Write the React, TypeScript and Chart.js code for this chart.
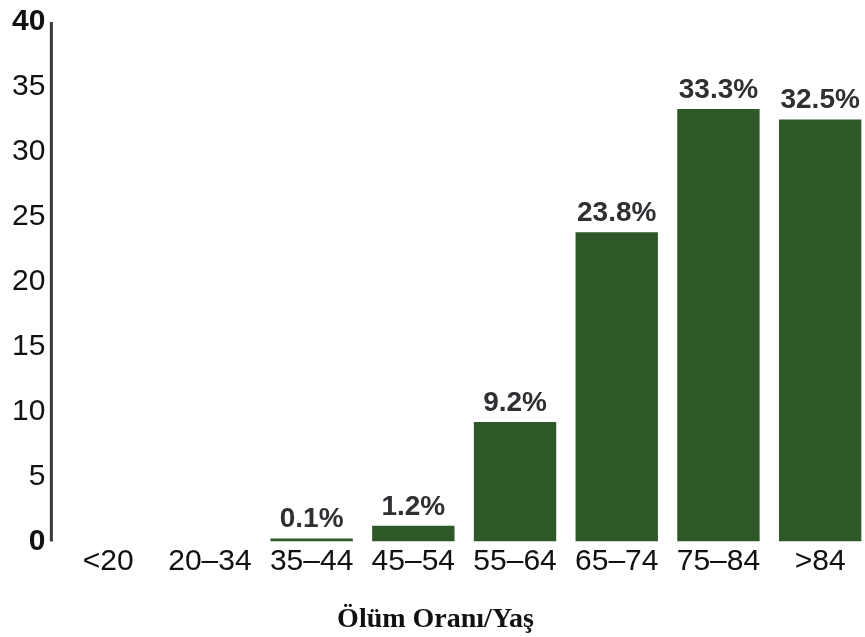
import React, { useEffect, useRef } from "react";
import { Chart, registerables } from "chart.js";

Chart.register(...registerables);

// Age groups and death rate (%) per group
const ageGroups = ["<20", "20–34", "35–44", "45–54", "55–64", "65–74", "75–84", ">84"];
const mortalityRates: (number | null)[] = [null, null, 0.1, 1.2, 9.2, 23.8, 33.3, 32.5];
const yTicks = [0, 5, 10, 15, 20, 25, 30, 35, 40];
const chartTitle = "Ölüm Oranı/Yaş";

const BAR_GREEN = "#2f5829";
const TEXT_DARK = "#111111";
const LABEL_GREY = "#2e3033";

// Vertical axis line, drawn a little to the left of the plot area
const axisLinePlugin = {
  id: "axisLine",
  afterDraw(chart: any) {
    const { ctx, chartArea, scales } = chart;
    const ys = scales.y;
    const x = chartArea.left - 6;
    ctx.save();
    ctx.strokeStyle = "#3a3a3a";
    ctx.lineWidth = 3;
    ctx.beginPath();
    ctx.moveTo(x, ys.getPixelForValue(yTicks[yTicks.length - 1]));
    ctx.lineTo(x, ys.getPixelForValue(yTicks[0]));
    ctx.stroke();
    ctx.restore();
  },
};

// Percentage labels above each bar
const valueLabelPlugin = {
  id: "valueLabels",
  afterDatasetsDraw(chart: any) {
    const { ctx } = chart;
    const meta = chart.getDatasetMeta(0);
    ctx.save();
    ctx.font = "bold 28px 'Liberation Sans', Arial, sans-serif";
    ctx.fillStyle = LABEL_GREY;
    ctx.textAlign = "center";
    ctx.textBaseline = "alphabetic";
    meta.data.forEach((bar: any, i: number) => {
      const v = mortalityRates[i];
      if (v === null || v === undefined) return;
      ctx.fillText(`${v.toFixed(1)}%`, bar.x, bar.y - 11);
    });
    ctx.restore();
  },
};

export default function App() {
  const canvasRef = useRef<HTMLCanvasElement | null>(null);

  useEffect(() => {
    if (!canvasRef.current) return;
    const chart = new Chart(canvasRef.current, {
      type: "bar",
      data: {
        labels: ageGroups,
        datasets: [
          {
            data: mortalityRates,
            backgroundColor: BAR_GREEN,
            borderWidth: 0,
            categoryPercentage: 1,
            barPercentage: 0.81,
            minBarLength: 3,
          },
        ],
      },
      options: {
        responsive: false,
        animation: false,
        devicePixelRatio: 1,
        layout: { padding: { top: 22, left: 0, right: 37, bottom: 0 } },
        plugins: {
          legend: { display: false },
          tooltip: { enabled: false },
          title: {
            display: true,
            position: "bottom",
            text: chartTitle,
            color: TEXT_DARK,
            padding: { top: 22, bottom: 0 },
            font: { family: "'Liberation Serif', 'Times New Roman', serif", size: 28, weight: "bold" },
          },
        },
        scales: {
          x: {
            grid: { display: false, drawTicks: false },
            border: { display: false },
            ticks: {
              color: TEXT_DARK,
              padding: 2,
              maxRotation: 0,
              autoSkip: false,
              font: { family: "'Liberation Sans', Arial, sans-serif", size: 30 },
            },
          },
          y: {
            min: yTicks[0],
            max: yTicks[yTicks.length - 1],
            grid: { display: false, drawTicks: false },
            border: { display: false },
            afterBuildTicks(scale: any) {
              scale.ticks = yTicks.map((value) => ({ value }));
            },
            afterFit(scale: any) {
              // let the layout padding alone set the plot's top and bottom
              scale.paddingTop = 0;
              scale.paddingBottom = 0;
            },
            ticks: {
              color: TEXT_DARK,
              padding: 12,
              font: (ctx: any) => {
                const v = ctx.tick ? ctx.tick.value : null;
                const edge = v === yTicks[0] || v === yTicks[yTicks.length - 1];
                return {
                  family: "'Liberation Sans', Arial, sans-serif",
                  size: 30,
                  weight: edge ? "bold" : "normal",
                };
              },
            },
          },
        },
      },
      plugins: [axisLinePlugin, valueLabelPlugin],
    });
    return () => chart.destroy();
  }, []);

  return (
    <div
      style={{
        position: "fixed",
        left: 0,
        top: 0,
        width: 865,
        height: 637,
        overflow: "hidden",
        background: "#ffffff",
      }}
    >
      <canvas ref={canvasRef} width={908} height={637} style={{ display: "block", width: 908, height: 637 }} />
    </div>
  );
}
